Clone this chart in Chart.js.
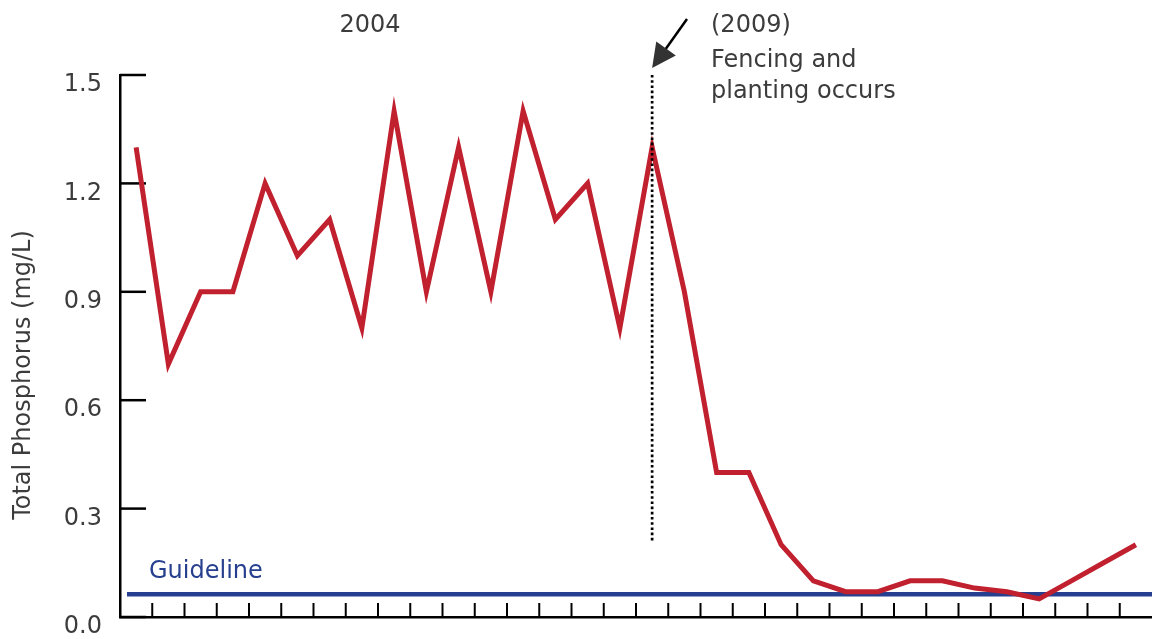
<!DOCTYPE html>
<html>
<head>
<meta charset="utf-8">
<script src="https://cdn.jsdelivr.net/npm/chart.js@4/dist/chart.umd.min.js"></script>
<style>
  html, body { margin: 0; padding: 0; background: #fff; }
  canvas { display: block; }
</style>
</head>
<body>
<canvas id="tpChart" width="1152" height="639"></canvas>
<script>
// --- data ---
const samples = ['1', '2', '3', '4', '5', '6', '7', '8', '9', '10', '11', '12', '13', '14', '15', '16',
                 '17', '18', '19', '20', '21', '22', '23', '24', '25', '26', '27', '28', '29', '30', '31', '32'];
const phosphorus = [1.3, 0.7, 0.9, 0.9, 1.2, 1.0, 1.1, 0.8, 1.4, 0.9, 1.3, 0.9, 1.4, 1.1, 1.2, 0.8,
                    1.3, 0.9, 0.4, 0.4, 0.2, 0.1, 0.07, 0.07, 0.1, 0.1, 0.08, 0.07, 0.05, 0.1, 0.15, 0.2];
const yTicks = [0, 0.3, 0.6, 0.9, 1.2, 1.5];
const guideline = 0.063;
const eventIndex = 16;   // fencing & planting (2009)

const FONT = '"DejaVu Sans", sans-serif';
const TEXT = '#3c3c3c';
const RED = '#c1202f';
const BLUE = '#263f8e';

const overlay = {
    id: 'overlay',
    beforeDatasetsDraw(chart) {
        const { ctx, chartArea: a, scales: { x, y } } = chart;
        ctx.save();
        // guideline
        const gy = y.getPixelForValue(guideline);
        ctx.strokeStyle = BLUE;
        ctx.lineWidth = 4.5;
        ctx.beginPath();
        ctx.moveTo(a.left + 7, gy);
        ctx.lineTo(a.right, gy);
        ctx.stroke();
        ctx.fillStyle = BLUE;
        ctx.font = '24px ' + FONT;
        ctx.textBaseline = 'alphabetic';
        ctx.fillText('Guideline', 149, 578);

        // y ticks pointing inwards
        ctx.strokeStyle = '#000';
        ctx.lineWidth = 2.5;
        yTicks.forEach(v => {
            const py = y.getPixelForValue(v);
            ctx.beginPath();
            ctx.moveTo(a.left, py);
            ctx.lineTo(a.left + 26, py);
            ctx.stroke();
        });
        // x minor ticks on category boundaries
        ctx.lineWidth = 2;
        for (let i = 1; i < samples.length; i++) {
            const px = (x.getPixelForValue(i - 1) + x.getPixelForValue(i)) / 2;
            ctx.beginPath();
            ctx.moveTo(px, a.bottom - 14);
            ctx.lineTo(px, a.bottom);
            ctx.stroke();
        }
        ctx.restore();
    },
    afterDatasetsDraw(chart) {
        const { ctx, scales: { x } } = chart;
        const ex = x.getPixelForValue(eventIndex);
        ctx.save();
        // dotted marker
        ctx.strokeStyle = '#000';
        ctx.lineWidth = 2.7;
        ctx.setLineDash([2.6, 2.6]);
        ctx.beginPath();
        ctx.moveTo(ex, 75);
        ctx.lineTo(ex, 542);
        ctx.stroke();
        ctx.setLineDash([]);

        // arrow
        const tipX = ex, tipY = 68, fromX = 687, fromY = 19;
        const dx = tipX - fromX, dy = tipY - fromY;
        const len = Math.hypot(dx, dy);
        const ux = dx / len, uy = dy / len;
        const bx = tipX - ux * 24, by = tipY - uy * 24;
        ctx.lineWidth = 2.5;
        ctx.beginPath();
        ctx.moveTo(fromX, fromY);
        ctx.lineTo(bx + ux * 4, by + uy * 4);
        ctx.stroke();
        ctx.fillStyle = '#333';
        ctx.beginPath();
        ctx.moveTo(tipX, tipY);
        ctx.lineTo(bx - uy * 12, by + ux * 12);
        ctx.lineTo(bx + uy * 12, by - ux * 12);
        ctx.closePath();
        ctx.fill();

        // texts
        ctx.fillStyle = TEXT;
        ctx.font = '24px ' + FONT;
        ctx.textBaseline = 'alphabetic';
        ctx.textAlign = 'center';
        ctx.fillText('2004', 370, 32);
        ctx.textAlign = 'left';
        ctx.fillText('(2009)', 711, 32);
        ctx.fillText('Fencing and', 711, 67);
        ctx.fillText('planting occurs', 711, 98);

        // y axis title
        ctx.translate(24, 375);
        ctx.rotate(-Math.PI / 2);
        ctx.textAlign = 'center';
        ctx.textBaseline = 'middle';
        ctx.fillText('Total Phosphorus (mg/L)', 0, 0);
        ctx.restore();
    }
};

new Chart(document.getElementById('tpChart'), {
    type: 'line',
    data: {
        labels: samples,
        datasets: [{
            label: 'Total Phosphorus',
            data: phosphorus,
            borderColor: RED,
            borderWidth: 5,
            pointRadius: 0,
            tension: 0,
            fill: false
        }]
    },
    options: {
        responsive: false,
        animation: false,
        layout: { padding: { top: 75, right: 0, bottom: 0, left: 0 } },
        plugins: { legend: { display: false }, tooltip: { enabled: false } },
        scales: {
            x: {
                type: 'category',
                offset: true,
                grid: { display: false, drawTicks: false },
                border: { display: true, color: '#000', width: 2.5 },
                ticks: { display: false },
                afterFit(scale) { scale.height = 22; }
            },
            y: {
                min: 0,
                max: 1.5,
                grid: { display: false, drawTicks: true, tickLength: 18 },
                border: { display: true, color: '#000', width: 2.5 },
                afterBuildTicks(scale) { scale.ticks = yTicks.map(v => ({ value: v })); },
                ticks: {
                    padding: 0,
                    labelOffset: 10,
                    color: TEXT,
                    font: { family: FONT, size: 24 },
                    callback: v => v.toFixed(1)
                },
                afterFit(scale) { scale.width = 120; }
            }
        }
    },
    plugins: [overlay]
});
</script>
</body>
</html>
